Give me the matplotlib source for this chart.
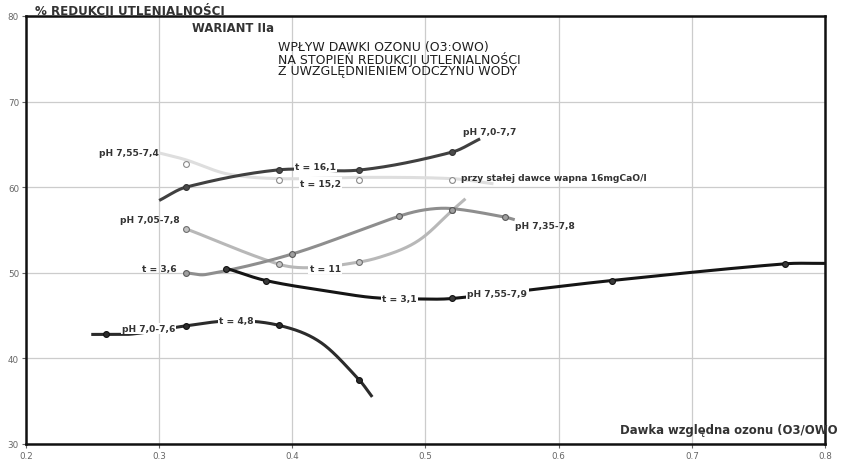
import numpy as np
import matplotlib
matplotlib.use("Agg")
import matplotlib.pyplot as plt

plt.rcParams['font.family'] = ['DejaVu Sans']

# ---------------- data ----------------
# Series 1: pH 7,0-7,7 / t = 16,1
s1_curve_x = [0.30, 0.32, 0.39, 0.45, 0.52, 0.541]
s1_curve_y = [58.45, 60.0, 62.03, 62.0, 64.1, 65.65]
s1_mark_x = [0.32, 0.39, 0.45, 0.52]
s1_mark_y = [60.0, 62.03, 62.0, 64.1]

# Series 2: pH 7,55-7,4 / t = 15,2
s2_curve_x = [0.30, 0.32, 0.351, 0.39, 0.45, 0.52, 0.551]
s2_curve_y = [64.0, 63.2, 61.56, 61.0, 61.15, 61.0, 60.4]
s2_mark_x = [0.32, 0.39, 0.45, 0.52]
s2_mark_y = [62.75, 60.85, 60.85, 60.85]

# Series 3: pH 7,05-7,8 / t = 11
s3_curve_x = [0.32, 0.39, 0.415, 0.45, 0.466, 0.486, 0.50, 0.52, 0.53]
s3_curve_y = [55.15, 51.0, 50.6, 51.25, 51.84, 53.0, 54.37, 57.28, 58.65]
s3_mark_x = [0.32, 0.39, 0.45, 0.52]
s3_mark_y = [55.15, 51.0, 51.25, 57.28]

# Series 4: pH 7,35-7,8 / t = 3,6
s4_curve_x = [0.32, 0.335, 0.40, 0.48, 0.50, 0.52, 0.56, 0.567]
s4_curve_y = [50.0, 49.8, 52.2, 56.6, 57.37, 57.5, 56.5, 56.2]
s4_mark_x = [0.32, 0.40, 0.48, 0.52, 0.56]
s4_mark_y = [50.0, 52.2, 56.6, 57.3, 56.5]

# Series 5: pH 7,55-7,9 / t = 3,1
s5_curve_x = [0.35, 0.38, 0.429, 0.461, 0.4925, 0.52, 0.64, 0.77, 0.80]
s5_curve_y = [50.55, 49.1, 47.8, 47.1, 46.95, 47.0, 49.1, 51.05, 51.1]
s5_mark_x = [0.35, 0.38, 0.52, 0.64, 0.77]
s5_mark_y = [50.5, 49.1, 47.0, 49.1, 51.05]

# Series 6: pH 7,0-7,6 / t = 4,8
s6_curve_x = [0.249, 0.26, 0.28, 0.32, 0.355, 0.39, 0.421, 0.45, 0.46]
s6_curve_y = [42.8, 42.8, 42.85, 43.8, 44.4, 43.86, 41.9, 37.53, 35.5]
s6_mark_x = [0.26, 0.32, 0.39, 0.45]
s6_mark_y = [42.8, 43.8, 43.86, 37.53]

x_ticks = [0.2, 0.3, 0.4, 0.5, 0.6, 0.7, 0.8]
x_tick_labels = ['0.2', '0.3', '0.4', '0.5', '0.6', '0.7', '0.8']
y_ticks = [30, 40, 50, 60, 70, 80]
y_tick_labels = ['30', '40', '50', '60', '70', '80']

# labels: (text, x, y, ha, white_background)
curve_labels = [
    ('pH 7,0-7,7', 0.5285, 66.45, 'left', False),
    ('t = 16,1', 0.4175, 62.4, 'center', True),
    ('pH 7,55-7,4', 0.2995, 64.0, 'right', False),
    ('t = 15,2', 0.4213, 60.48, 'center', True),
    ('przy stałej dawce wapna 16mgCaO/l', 0.5263, 61.18, 'left', False),
    ('pH 7,05-7,8', 0.3155, 56.23, 'right', False),
    ('t = 11', 0.4246, 50.56, 'center', True),
    ('t = 3,6', 0.3133, 50.56, 'right', False),
    ('pH 7,35-7,8', 0.5675, 55.53, 'left', False),
    ('t = 3,1', 0.4805, 46.95, 'center', True),
    ('pH 7,55-7,9', 0.554, 47.56, 'center', True),
    ('pH 7,0-7,6', 0.2919, 43.5, 'center', True),
    ('t = 4,8', 0.3583, 44.41, 'center', True),
]


def smooth(xs, ys, n=60):
    xs = np.asarray(xs, float)
    ys = np.asarray(ys, float)
    k = len(xs)
    m = np.zeros(k)
    m[0] = (ys[1] - ys[0]) / (xs[1] - xs[0])
    m[-1] = (ys[-1] - ys[-2]) / (xs[-1] - xs[-2])
    for i in range(1, k - 1):
        m[i] = (ys[i + 1] - ys[i - 1]) / (xs[i + 1] - xs[i - 1])
    ox, oy = [], []
    for i in range(k - 1):
        h = xs[i + 1] - xs[i]
        t = np.linspace(0, 1, n, endpoint=(i == k - 2))
        h00 = 2 * t**3 - 3 * t**2 + 1
        h10 = t**3 - 2 * t**2 + t
        h01 = -2 * t**3 + 3 * t**2
        h11 = t**3 - t**2
        ox.append(xs[i] + t * h)
        oy.append(h00 * ys[i] + h10 * h * m[i] + h01 * ys[i + 1] + h11 * h * m[i + 1])
    return np.concatenate(ox), np.concatenate(oy)


W, H = 841, 460
fig = plt.figure(figsize=(W / 100, H / 100), dpi=100)
ax = fig.add_axes([26 / W, 15 / H, 799 / W, 428 / H])
ax.set_xlim(0.2, 0.8)
ax.set_ylim(30, 80)

ax.set_xticks(x_ticks)
ax.set_xticklabels(x_tick_labels)
ax.set_yticks(y_ticks)
ax.set_yticklabels(y_tick_labels)
ax.tick_params(axis='both', labelsize=6.3, labelcolor='#666666', length=3,
               width=0.8, color='#666666', pad=2)
ax.grid(True, color='#cccccc', linewidth=0.9)
ax.set_axisbelow(True)
for sp in ax.spines.values():
    sp.set_linewidth(1.8)
    sp.set_color('#111111')

series = [
    (s1_curve_x, s1_curve_y, s1_mark_x, s1_mark_y, '#404040', '#4a4a4a', '#333333'),
    (s2_curve_x, s2_curve_y, s2_mark_x, s2_mark_y, '#dedede', 'white', '#8a8a8a'),
    (s3_curve_x, s3_curve_y, s3_mark_x, s3_mark_y, '#b8b8b8', '#c4c4c4', '#6e6e6e'),
    (s4_curve_x, s4_curve_y, s4_mark_x, s4_mark_y, '#8e8e8e', '#a0a0a0', '#5a5a5a'),
    (s5_curve_x, s5_curve_y, s5_mark_x, s5_mark_y, '#151515', '#3a3a3a', '#111111'),
    (s6_curve_x, s6_curve_y, s6_mark_x, s6_mark_y, '#2b2b2b', '#2b2b2b', '#111111'),
]
order_z = [3, 2, 2.5, 2.6, 3.2, 3.1]
for (cx, cy, mx, my, lc, mf, me), z in zip(series, order_z):
    sx, sy = smooth(cx, cy)
    ax.plot(sx, sy, color=lc, lw=2.2, solid_capstyle='butt', zorder=z)
    ax.plot(mx, my, linestyle='none', marker='o', markersize=4.2,
            markerfacecolor=mf, markeredgecolor=me, markeredgewidth=0.8, zorder=6)

for txt, x, y, ha, bg in curve_labels:
    kw = {}
    if bg:
        kw['bbox'] = dict(boxstyle='square,pad=0.12', facecolor='white', edgecolor='none')
    ax.text(x, y, txt, ha=ha, va='center', fontsize=6.6, fontweight='bold',
            color='#333333', zorder=7, **kw)

# titles
fig.text(35 / W, 1 - 11 / H, '% REDUKCJI UTLENIALNOŚCI', ha='left', va='center',
         fontsize=8.6, fontweight='bold', color='#333333')
fig.text(192 / W, 1 - 29 / H, 'WARIANT IIa', ha='left', va='center',
         fontsize=8.4, fontweight='bold', color='#333333')
for i, line in enumerate(['WPŁYW DAWKI OZONU (O3:OWO)',
                          'NA STOPIEŃ REDUKCJI UTLENIALNOŚCI',
                          'Z UWZGLĘDNIENIEM ODCZYNU WODY']):
    fig.text(278 / W, 1 - (47 + 12.5 * i) / H, line, ha='left', va='center',
             fontsize=9.0, color='#1e1e1e')
fig.text(620 / W, 1 - 431 / H, 'Dawka względna ozonu (O3/OWO', ha='left', va='center',
         fontsize=8.4, fontweight='bold', color='#333333', zorder=10)

fig.savefig('out.png', dpi=100, facecolor='white')
